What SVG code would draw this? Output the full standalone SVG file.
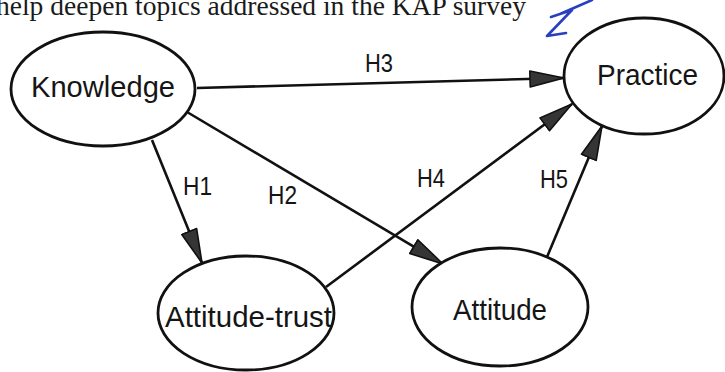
<svg xmlns="http://www.w3.org/2000/svg" width="725" height="372" viewBox="0 0 725 372">
  <style>
    .node ellipse { fill: #ffffff; stroke: #111111; stroke-width: 2.8; }
    .node text { font-family: "Liberation Sans", Arial, sans-serif; font-size: 30px; fill: #151515; }
    .edge { stroke: #111111; stroke-width: 2.6; fill: none; marker-end: url(#head); }
    .lbl { font-family: "Liberation Sans", Arial, sans-serif; font-size: 25px; fill: #151515; }
    .page { font-family: "Liberation Serif", "Times New Roman", serif; font-size: 28px; fill: #1a1a1a; }
  </style>
  <defs>
    <marker id="head" markerUnits="userSpaceOnUse" markerWidth="40" markerHeight="22" refX="35" refY="10" orient="auto">
      <path d="M1,2 L35,10 L1,18 Z" fill="#353535" stroke="#111111" stroke-width="1.6" stroke-linejoin="round"/>
    </marker>
  </defs>

  <rect width="725" height="372" fill="#ffffff"/>

  <!-- running text of the page above the figure -->
  <text class="page" x="-4" y="15" textLength="530" lengthAdjust="spacingAndGlyphs">help deepen topics addressed in the KAP survey</text>

  <!-- pen mark -->
  <path d="M551,17 L572,10 L547,36 L566,33 M560,14 L592,0" fill="none" stroke="#2a3fbf" stroke-width="2.6" stroke-linecap="round" stroke-linejoin="round"/>

  <g id="connectors">
    <line class="edge" x1="197" y1="88" x2="564" y2="78"/>
    <line class="edge" x1="152" y1="140" x2="202" y2="263"/>
    <line class="edge" x1="187" y1="112" x2="443" y2="264"/>
    <line class="edge" x1="326" y1="287" x2="572" y2="104"/>
    <line class="edge" x1="547" y1="257" x2="602" y2="126"/>
    <text class="lbl" x="183" y="195" textLength="29" lengthAdjust="spacingAndGlyphs">H1</text>
    <text class="lbl" x="268" y="204" textLength="29" lengthAdjust="spacingAndGlyphs">H2</text>
    <text class="lbl" x="365" y="72" textLength="28" lengthAdjust="spacingAndGlyphs">H3</text>
    <text class="lbl" x="417" y="187" textLength="28" lengthAdjust="spacingAndGlyphs">H4</text>
    <text class="lbl" x="540" y="188" textLength="28" lengthAdjust="spacingAndGlyphs">H5</text>
  </g>

  <g id="knowledge" class="node">
    <ellipse cx="103" cy="89" rx="92" ry="57"/>
    <text x="31" y="97" textLength="144" lengthAdjust="spacingAndGlyphs">Knowledge</text>
  </g>

  <g id="practice" class="node">
    <ellipse cx="644" cy="76" rx="80" ry="58"/>
    <text x="597" y="85" textLength="101" lengthAdjust="spacingAndGlyphs">Practice</text>
  </g>

  <g id="attitude-trust" class="node">
    <ellipse cx="246" cy="313" rx="88" ry="57"/>
    <text x="165" y="327" textLength="167" lengthAdjust="spacingAndGlyphs">Attitude-trust</text>
  </g>

  <g id="attitude" class="node">
    <ellipse cx="500" cy="307" rx="88" ry="59"/>
    <text x="453" y="320" textLength="94" lengthAdjust="spacingAndGlyphs">Attitude</text>
  </g>
</svg>
